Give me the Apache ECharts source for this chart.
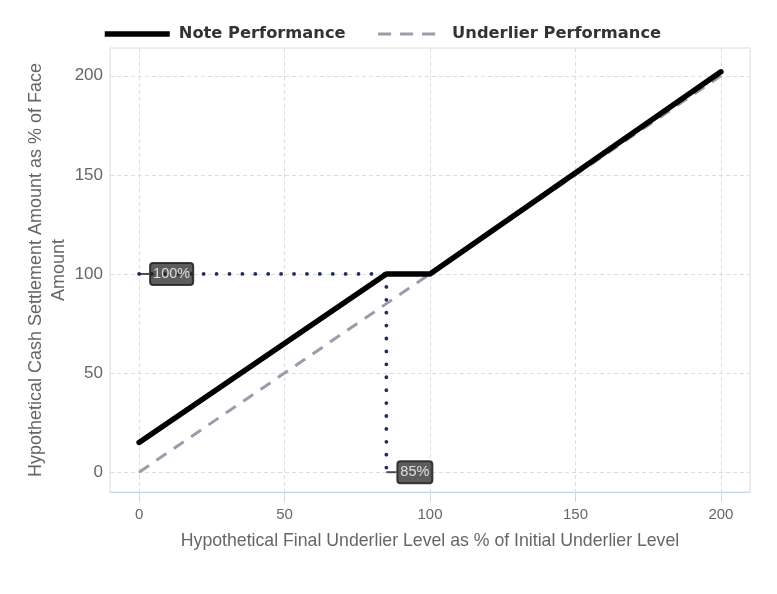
<!DOCTYPE html>
<html>
<head>
<meta charset="utf-8">
<script src="https://cdn.jsdelivr.net/npm/echarts@6/dist/echarts.min.js"></script>
<style>html,body{margin:0;padding:0;background:#fff}#c{width:777px;height:594px}</style>
</head>
<body>
<div id="c"></div>
<script>
const xTicks = [0, 50, 100, 150, 200];
const yTicks = [0, 50, 100, 150, 200];
const noteX = [0, 85, 100, 200];
const noteY = [15, 100, 100, 202];
const underX = [0, 200];
const underY = [0, 200];
const buffer = 85;
const capLevel = 100;
const annotNames = ['100%', '85%'];

const chart = echarts.init(document.getElementById('c'));
const font = 'Liberation Sans, Arial, sans-serif';
chart.setOption({
  animation: false,
  backgroundColor: '#fff',
  grid: { left: 110, right: 27, top: 48, bottom: 102, show: true, borderColor: '#dcdcdc', borderWidth: 1 },
  legend: {
    left: 97, top: 21, itemWidth: 65, itemHeight: 14, itemGap: 31,
    textStyle: { fontFamily: 'DejaVu Sans, sans-serif', fontSize: 16.3, fontWeight: 'bold', color: '#333', padding: [0, 0, 0, 4] },
    data: [
      { name: 'Note Performance', itemStyle: { opacity: 0 }, lineStyle: { width: 5.5, color: '#000', cap: 'butt' } },
      { name: 'Underlier Performance', itemStyle: { opacity: 0 }, lineStyle: { width: 3, color: '#9b9bab', type: [13, 9], cap: 'butt' } }
    ]
  },
  xAxis: {
    type: 'value', min: -10, max: 210,
    name: 'Hypothetical Final Underlier Level as % of Initial Underlier Level',
    nameLocation: 'middle', nameGap: 40,
    nameTextStyle: { fontFamily: font, fontSize: 17.7, color: '#666' },
    axisLine: { show: true, onZero: false, lineStyle: { color: '#ccd6eb' } },
    axisTick: { show: true, length: 10, customValues: xTicks, lineStyle: { color: '#ccd6eb' } },
    axisLabel: { customValues: xTicks, fontFamily: 'Liberation Sans Narrow, Arial Narrow, sans-serif', fontSize: 15, color: '#666', margin: 15 },
    splitLine: { show: true, lineStyle: { color: '#dddddd', type: [4, 3] } }
  },
  yAxis: {
    type: 'value', min: -10, max: 214,
    name: 'Hypothetical Cash Settlement Amount as % of Face\nAmount',
    nameLocation: 'middle', nameGap: 39, nameMoveOverlap: false,
    nameTextStyle: { fontFamily: font, fontSize: 18, color: '#666', lineHeight: 23 },
    axisLine: { show: false },
    axisTick: { show: false, customValues: yTicks },
    axisLabel: { customValues: yTicks, fontFamily: font, fontSize: 17, color: '#666', margin: 7 },
    splitLine: { show: true, lineStyle: { color: '#dddddd', type: [4, 3] } }
  },
  series: [
    {
      name: 'Underlier Performance', type: 'line', symbol: 'none', z: 3,
      data: underX.map((x, i) => [x, underY[i]]),
      lineStyle: { color: '#9b9bab', width: 3, type: [12, 9] },
      itemStyle: { color: '#9b9bab' }
    },
    {
      name: 'Note Performance', type: 'line', symbol: 'none', z: 4,
      data: noteX.map((x, i) => [x, noteY[i]]),
      lineStyle: { color: '#000', width: 5.5, cap: 'round', join: 'round' },
      itemStyle: { color: '#000' }
    },
    {
      name: 'capH', type: 'line', symbol: 'none', z: 2,
      data: [[0, capLevel], [buffer, capLevel]],
      lineStyle: { color: '#1c2e5e', width: 3.8, type: [0.01, 12.9], cap: 'round' }
    },
    {
      name: 'capV', type: 'line', symbol: 'none', z: 2,
      data: [[buffer, capLevel], [buffer, 0]],
      lineStyle: { color: '#1c2e5e', width: 3.8, type: [0.01, 12.9], cap: 'round' }
    },
    {
      name: 'labels', type: 'scatter', z: 6,
      symbol: 'rect', symbolSize: [10, 2], symbolOffset: [5, 0],
      itemStyle: { color: '#222' },
      data: [
        { value: [0, capLevel], name: annotNames[0] },
        { value: [buffer, 0], name: annotNames[1] }
      ],
      label: {
        show: true, position: 'right', distance: 1, formatter: '{b}',
        backgroundColor: 'rgba(35,35,35,0.92)', borderColor: '#111', borderWidth: 1,
        borderRadius: 3, padding: [4, 3, 3, 3],
        color: '#fff', fontFamily: font, fontSize: 14.5
      }
    }
  ]
});
</script>
</body>
</html>
